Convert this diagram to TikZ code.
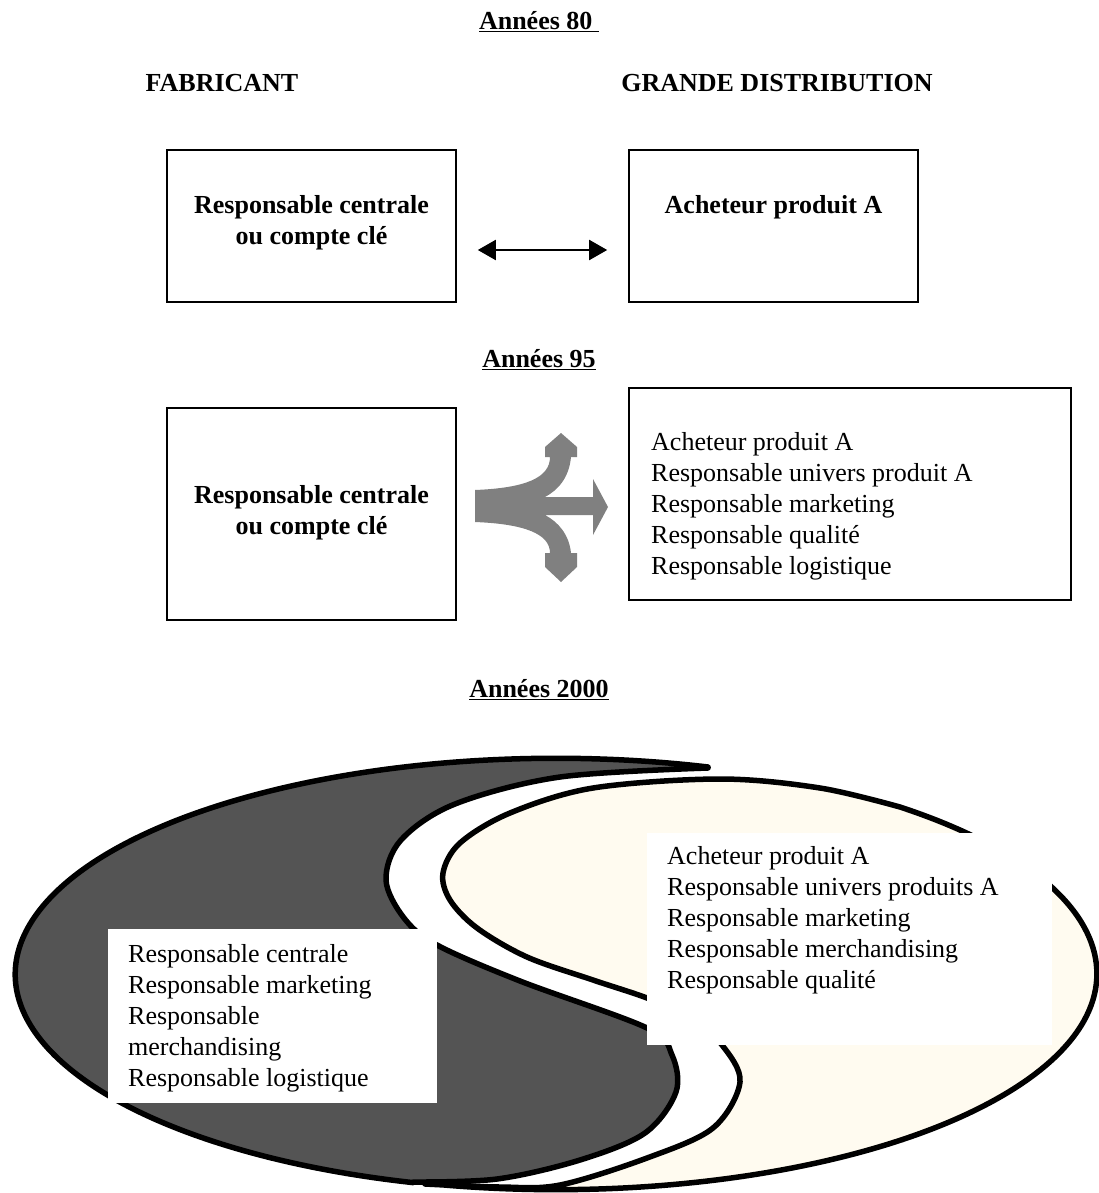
\documentclass[tikz,border=0pt]{standalone}
\usepackage{fontspec}
\setmainfont{Liberation Serif}
\usetikzlibrary{arrows.meta}

\definecolor{darkpart}{RGB}{84,84,84}
\definecolor{creampart}{RGB}{255,251,240}
\definecolor{arrowgray}{RGB}{128,128,128}

\tikzset{
  txt/.style={inner sep=0pt, font=\fontsize{26}{31}\selectfont},
  btxt/.style={inner sep=0pt, font=\fontsize{26}{31}\selectfont\bfseries},
  box/.style={draw, line width=1.6pt, inner sep=0pt},
  blob/.style={line width=5.5pt, line join=round},
  whitebox/.style={fill=white, inner sep=0pt, anchor=north west}
}

\begin{document}
\begin{tikzpicture}[x=1pt,y=-1pt]
 \useasboundingbox (0,0) rectangle (1098,1193);

 % titres
 \node[btxt] (t80) at (539,22) {\underline{Années 80~}};
 \node[btxt] (fab) at (222,83) {FABRICANT};
 \node[btxt] (dist) at (777,83) {GRANDE DISTRIBUTION};
 \node[btxt] (t95) at (539,360) {\underline{Années 95}};
 \node[btxt] (t2000) at (539,690) {\underline{Années 2000}};

 % années 80
 \node[box, minimum width=289pt, minimum height=152pt] (fab80) at (311.5,226) {};
 \node[btxt, align=center] (fab80txt) at (311.5,223) {Responsable centrale\\ou compte clé};
 \node[box, minimum width=289pt, minimum height=152pt] (dist80) at (773.5,226) {};
 \node[btxt] (dist80txt) at (773.5,207) {Acheteur produit A};
 \draw[line width=2pt, {Triangle[length=18pt,width=20pt]}-{Triangle[length=18pt,width=20pt]}]
  ([xshift=21pt,yshift=-24pt]fab80.east) -- ([xshift=-21pt,yshift=-24pt]dist80.west);

 % années 95
 \node[box, minimum width=289pt, minimum height=212pt] (fab95) at (311.5,514) {};
 \node[btxt, align=center] (fab95txt) at (311.5,513) {Responsable centrale\\ou compte clé};
 \node[box, minimum width=442pt, minimum height=212pt] (dist95) at (850,494) {};
 \node[txt, align=left, anchor=west] (dist95txt) at (651,506)
  {Acheteur produit A\\Responsable univers produit A\\Responsable marketing\\Responsable qualité\\Responsable logistique};
 \fill[arrowgray] (475,490) .. controls (525,488) and (550,478) .. (550,457)
  -- (545,457) -- (545,447) -- (561,433) -- (577,447) -- (577,457) -- (571,457)
  .. controls (569,478) and (558,490) .. (545,497)
  -- (593,497) -- (593,479) -- (608,507) -- (593,535) -- (593,515) -- (545,515)
  .. controls (558,522) and (569,534) .. (571,553)
  -- (577,553) -- (577,567) -- (561,582) -- (545,567) -- (545,553) -- (550,553)
  .. controls (550,534) and (525,524) .. (475,522) -- cycle;

 % années 2000
 \filldraw[blob, fill=darkpart] (708,767)
  arc[start angle=-73.7, end angle=-254.7, x radius=541, y radius=216]
  -- plot[smooth, tension=0.55] coordinates {(413,1182) (497,1179) (580,1160) (645,1133)
   (676,1092) (672,1055) (647,1028) (520,981) (437,945) (404,918) (386,880) (401,840)
   (455,804) (560,777) (708,768)} -- cycle;
 \filldraw[blob, fill=creampart] (900,807)
  arc[start angle=-50.5, end angle=104, x radius=541, y radius=216]
  -- plot[smooth, tension=0.55] coordinates {(425,1184) (500,1187) (560,1185) (647,1158)
   (713,1128) (740,1082) (722,1045) (690,1017) (647,998) (593,980) (527,957) (477,928)
   (450,900) (443,873) (460,843) (510,813) (593,788) (720,779) (820,788) (900,807)} -- cycle;

 \node[whitebox, minimum width=329pt, minimum height=174pt] (fab2000) at (108,929) {};
 \node[txt, align=left, anchor=west] (fab2000txt) at (128,1018)
  {Responsable centrale\\Responsable marketing\\Responsable\\merchandising\\Responsable logistique};
 \node[whitebox, minimum width=405pt, minimum height=212pt] (dist2000) at (647,833) {};
 \node[txt, align=left, anchor=west] (dist2000txt) at (667,920)
  {Acheteur produit A\\Responsable univers produits A\\Responsable marketing\\Responsable merchandising\\Responsable qualité};
\end{tikzpicture}
\end{document}
